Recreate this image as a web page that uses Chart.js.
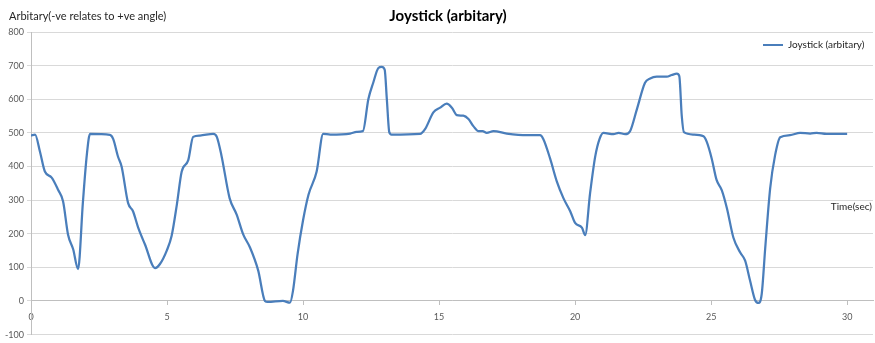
<!DOCTYPE html>
<html>
<head>
<meta charset="utf-8">
<script src="https://cdn.jsdelivr.net/npm/chart.js@4.4.1/dist/chart.umd.min.js"></script>
<style>
	html, body { margin: 0; padding: 0; background: #fff; }
	#wrap { width: 875px; height: 343px; position: relative; }
</style>
</head>
<body>
<div id="wrap"><canvas id="joystick-chart"></canvas></div>
<script>
var chartTitle = 'Joystick (arbitary)';
var yTitle = 'Arbitary(-ve relates to +ve angle)';
var xTitle = 'Time(sec)';
var seriesName = 'Joystick (arbitary)';

// time in seconds
var timeSec = [
	0, 0.15, 0.33, 0.51, 0.76, 1.0, 1.18, 1.36, 1.55, 1.73, 1.91, 2.05, 2.17, 2.9, 3.02, 3.2, 3.33,
	3.57, 3.75, 3.94, 4.19, 4.56, 4.74, 4.99, 5.17, 5.36, 5.54, 5.78, 5.96, 6.21, 6.7, 6.83, 7.0,
	7.3, 7.56, 7.8, 8.05, 8.35, 8.6, 8.7, 9.26, 9.52, 9.63, 9.8, 10.0, 10.2, 10.5, 10.74, 11.0,
	11.73, 11.97, 12.2, 12.4, 12.58, 12.77, 12.89, 13.0, 13.08, 13.17, 13.25, 14.3, 14.49, 14.79,
	15.04, 15.28, 15.47, 15.65, 15.89, 16.08, 16.26, 16.45, 16.6, 16.75, 17.0, 17.49, 18.22, 18.71,
	18.83, 19.08, 19.33, 19.57, 19.82, 20.0, 20.25, 20.37, 20.55, 20.74, 20.9, 21.04, 21.41, 21.6,
	21.84, 22.02, 22.27, 22.57, 22.76, 23.0, 23.37, 23.55, 23.74, 23.83, 23.92, 24.0, 24.35, 24.72,
	24.84, 25.02, 25.2, 25.39, 25.58, 25.82, 26.07, 26.25, 26.43, 26.62, 26.74, 26.86, 26.99, 27.17,
	27.35, 27.54, 27.9, 28.27, 28.64, 28.88, 29.24, 30.0
];

var joystick = [
	492, 495, 444, 385, 367, 330, 296, 198, 154, 95, 296, 433, 497, 494, 482, 429, 400,
	291, 267, 218, 168, 98, 110, 150, 194, 286, 385, 419, 488, 492, 497, 488, 433,
	306, 257, 198, 159, 91, 0, -3, 0, -5, 30, 140, 240, 316, 385, 497, 495,
	498, 503, 505, 600, 649, 693, 696, 688, 600, 502, 495, 497, 512, 561,
	575, 587, 575, 553, 551, 541, 520, 505, 505, 500, 505, 498, 493, 493,
	482, 424, 355, 306, 267, 232, 218, 196, 320, 430, 482, 500, 496, 500,
	496, 505, 570, 649, 662, 667, 667, 672, 676, 669, 551, 502, 495, 490,
	473, 424, 360, 330, 276, 188, 144, 120, 61, 2, -6, 21, 159, 335,
	433, 487, 493, 500, 498, 500, 497, 497
];

var yTicks = [-100, 0, 100, 200, 300, 400, 500, 600, 700, 800];
var xTicks = [0, 5, 10, 15, 20, 25, 30];

var lineColor = '#4a7ebb';
var textColor = '#262626';
var fontName = 'Lato, "Open Sans", sans-serif';

var points = timeSec.map(function (t, i) {
	return { x: t, y: joystick[i] };
});

// titles and the floating legend sit inside/around the plot like in Excel
var extraText = {
	id: 'extraText',
	afterDraw: function (chart) {
		var ctx = chart.ctx;
		ctx.save();
		ctx.fillStyle = '#000';
		ctx.textBaseline = 'middle';

		ctx.font = 'bold 15px ' + fontName;
		ctx.textAlign = 'center';
		ctx.fillText(chartTitle, 448, 16);

		ctx.fillStyle = textColor;
		ctx.font = '11px ' + fontName;
		ctx.textAlign = 'left';
		ctx.fillText(yTitle, 9, 16);

		ctx.font = '10px ' + fontName;
		ctx.textAlign = 'right';
		ctx.fillText(xTitle, 872, 207);

		var ds = chart.data.datasets[0];
		ctx.strokeStyle = ds.borderColor;
		ctx.lineWidth = 2;
		ctx.beginPath();
		ctx.moveTo(763, 45);
		ctx.lineTo(783, 45);
		ctx.stroke();
		ctx.textAlign = 'left';
		ctx.fillText(ds.label, 788, 45);
		ctx.restore();
	}
};

new Chart('joystick-chart', {
	type: 'scatter',
	data: {
		datasets: [
			{
				label: seriesName,
				data: points,
				showLine: true,
				borderColor: lineColor,
				backgroundColor: lineColor,
				borderWidth: 2.25,
				pointRadius: 0,
				cubicInterpolationMode: 'monotone'
			}
		]
	},
	options: {
		responsive: true,
		maintainAspectRatio: false,
		animation: false,
		layout: {
			padding: { top: 32, bottom: 5, right: 2, left: 0 }
		},
		plugins: {
			legend: { display: false },
			title: { display: false },
			tooltip: { enabled: false }
		},
		scales: {
			x: {
				type: 'linear',
				position: { y: 0 },
				min: 0,
				max: 30.95,
				afterBuildTicks: function (scale) {
					scale.ticks = xTicks.map(function (v) { return { value: v }; });
				},
				ticks: {
					color: '#595959',
					font: { family: fontName, size: 9 },
					padding: 7,
					maxRotation: 0
				},
				grid: {
					drawOnChartArea: false,
					drawTicks: true,
					tickLength: 4,
					color: '#bfbfbf'
				},
				border: { color: '#bfbfbf' }
			},
			y: {
				type: 'linear',
				min: -100,
				max: 800,
				afterFit: function (scale) { scale.width = 31; },
				afterBuildTicks: function (scale) {
					scale.ticks = yTicks.map(function (v) { return { value: v }; });
				},
				ticks: {
					color: '#595959',
					font: { family: fontName, size: 9 },
					padding: 3
				},
				grid: {
					color: '#d9d9d9',
					tickLength: 4
				},
				border: { color: '#bfbfbf' }
			}
		}
	},
	plugins: [extraText]
});
</script>
</body>
</html>
